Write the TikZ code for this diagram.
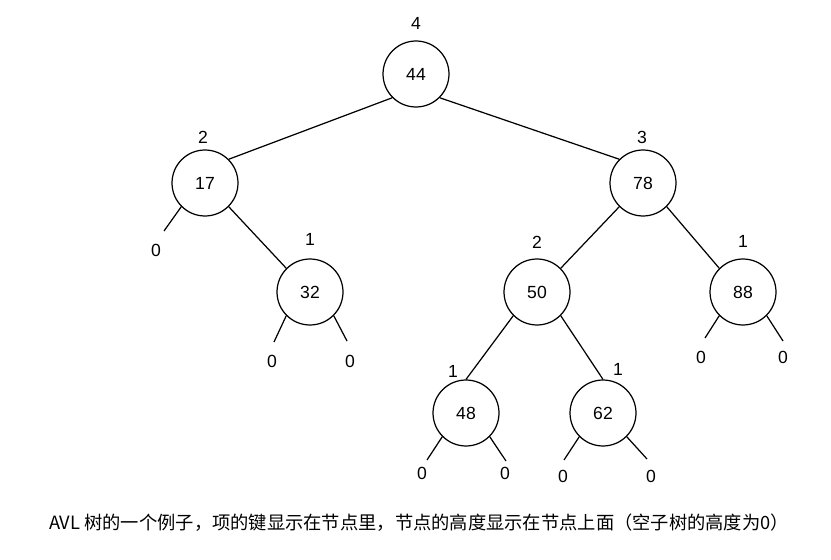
\documentclass[tikz,border=0pt]{standalone}
\usepackage{fontspec}
\setmainfont{Liberation Sans}
\newfontfamily\cjk{Noto Sans CJK SC}
\usetikzlibrary{positioning}
\tikzset{
  knode/.style={draw, circle, minimum size=1.32cm, inner sep=0pt, line width=0.7pt, font=\fontsize{10}{12}\selectfont},
  hnum/.style={inner sep=0pt, font=\fontsize{10}{12}\selectfont},
  edg/.style={line width=0.7pt},
}

\begin{document}
\begin{tikzpicture}[x=0.02cm, y=-0.02cm]
\useasboundingbox (0,0) rectangle (831,560);

% keys
\node[knode] (k44) at (416,74) {44};
\node[knode] (k17) at (205,183) {17};
\node[knode] (k78) at (643,183) {78};
\node[knode] (k32) at (310,292) {32};
\node[knode] (k50) at (537,292) {50};
\node[knode] (k88) at (743,292) {88};
\node[knode] (k48) at (466,413) {48};
\node[knode] (k62) at (603,413) {62};

% heights
\node[hnum] (h44) at (416,23) {4};
\node[hnum] (h17) at (203,137) {2};
\node[hnum] (h78) at (642,137) {3};
\node[hnum] (h32) at (310,239) {1};
\node[hnum] (h50) at (537,242) {2};
\node[hnum] (h88) at (743,241) {1};
\node[hnum] (h48) at (453,371) {1};
\node[hnum] (h62) at (618,369) {1};

% empty subtrees
\coordinate (e17l) at (164,231);
\coordinate (e32l) at (274,342);
\coordinate (e32r) at (347,341);
\coordinate (e48l) at (427,460);
\coordinate (e48r) at (506,461);
\coordinate (e62l) at (564,460);
\coordinate (e62r) at (647,459);
\coordinate (e88l) at (705,338);
\coordinate (e88r) at (783,341);
\node[hnum] (z17l) at (156,250) {0};
\node[hnum] (z32l) at (272,361) {0};
\node[hnum] (z32r) at (350,361) {0};
\node[hnum] (z48l) at (422,473) {0};
\node[hnum] (z48r) at (505,473) {0};
\node[hnum] (z62l) at (563,476) {0};
\node[hnum] (z62r) at (651,476) {0};
\node[hnum] (z88l) at (701,357) {0};
\node[hnum] (z88r) at (783,357) {0};

\draw[edg] (k44.south west) -- (k17.north east);
\draw[edg] (k44.south east) -- (k78.north west);
\draw[edg] (k17.south east) -- (k32.north west);
\draw[edg] (k78.south west) -- (k50.north east);
\draw[edg] (k78.south east) -- (k88.north west);
\draw[edg] (k50.south west) -- (k48.north);
\draw[edg] (k50.south east) -- (k62.north);

\draw[edg] (k17.south west) -- (e17l);
\draw[edg] (k32.south west) -- (e32l);
\draw[edg] (k32.south east) -- (e32r);
\draw[edg] (k48.south west) -- (e48l);
\draw[edg] (k48.south east) -- (e48r);
\draw[edg] (k62.south west) -- (e62l);
\draw[edg] (k62.south east) -- (e62r);
\draw[edg] (k88.south west) -- (e88l);
\draw[edg] (k88.south east) -- (e88r);

\node[hnum, font=\cjk\fontsize{10.4}{12}\selectfont] (cap) at (419,523) {AVL 树的一个例子，项的键显示在节点里，节点的高度显示在节点上面（空子树的高度为0）};

\end{tikzpicture}
\end{document}
